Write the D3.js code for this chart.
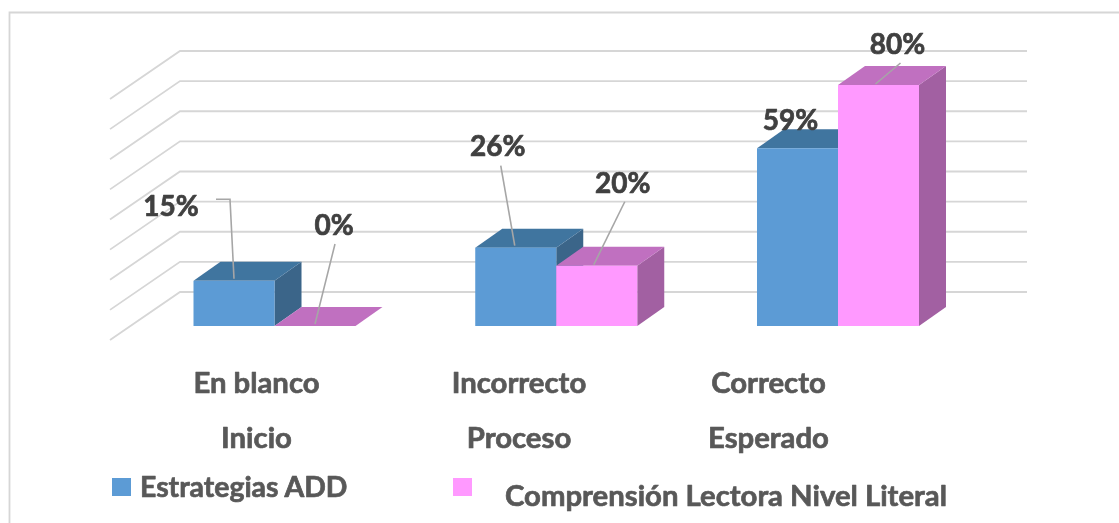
<!DOCTYPE html>
<html><head><meta charset="utf-8">
<script src="https://cdn.jsdelivr.net/npm/d3@7/dist/d3.min.js"></script>
<style>html,body{margin:0;padding:0;background:#fff;overflow:hidden}svg{display:block}text{font-family:Lato,"Open Sans",sans-serif;font-weight:700;stroke-linejoin:round}</style>
</head><body><svg id="c" width="1119" height="523"></svg>
<script>
const categories = ["En blanco","Incorrecto","Correcto"];
const stages = ["Inicio","Proceso","Esperado"];
const seriesNames = ["Estrategias ADD","Comprensión Lectora Nivel Literal"];
const estrategias = [15,26,59];
const comprension = [0,20,80];
const gridTicks = [0,10,20,30,40,50,60,70,80];

const colors = [
 {front:"#5B9BD5",top:"#41749F",side:"#3A6589"},
 {front:"#FF99FF",top:"#C070C0",side:"#A260A2"}
];
const svg = d3.select("#c");
const defs = svg.append("defs");
defs.append("filter").attr("id","soft").attr("x","-5%").attr("y","-5%").attr("width","110%").attr("height","110%")
 .append("feGaussianBlur").attr("stdDeviation",0.45);
const root = svg.append("g").attr("filter","url(#soft)");
const y = d3.scaleLinear().domain([0,80]).range([292,51]);
const x0 = d3.scaleBand().domain(categories).range([193.5,919]).paddingInner(0.425);
const x1 = d3.scaleBand().domain([0,1]).range([0,x0.bandwidth()]);
const depth = {dx:27,dy:19}, wall = {dx:70,dy:48}, floorDrop = 34;
const yFront = v => y(v)+floorDrop;

// frame
root.append("path").attr("d","M9.5,523V12.5H1119").attr("fill","none").attr("stroke","#D6D6D6").attr("stroke-width",1.8);

// grid
const gridG = root.append("g").attr("fill","none").attr("stroke","#D6D6D6").attr("stroke-width",1.8);
gridG.selectAll("path").data(gridTicks).join("path")
 .attr("d",d=>`M${180-wall.dx},${y(d)+wall.dy}L180,${y(d)}H1027`);

// bars
[estrategias,comprension].forEach((vals,s)=>{
 const c = colors[s];
 const g = root.append("g").attr("class","series");
 vals.forEach((v,i)=>{
  const l = x0(categories[i])+x1(s), r = l+x1.bandwidth();
  const t = yFront(v), b = yFront(0);
  g.append("path").attr("fill",c.side)
   .attr("d",`M${r},${t}L${r+depth.dx},${t-depth.dy}V${b-depth.dy}L${r},${b}Z`);
  g.append("path").attr("fill",c.top)
   .attr("d",`M${l},${t}L${l+depth.dx},${t-depth.dy}H${r+depth.dx}L${r},${t}Z`);
  if(v>0) g.append("rect").attr("x",l).attr("y",t).attr("width",r-l).attr("height",b-t).attr("fill",c.front);
 });
});

// leader lines and labels, offsets relative to the bar's centre/top
const layout = [
 [{lx:-63,ly:-65,pts:[[-18,-81.5],[-4,-81.5],[0,-2]]},{lx:19,ly:-91,pts:[[20,-82],[0,-2]]}],
 [{lx:-18,ly:-92,pts:[[-15,-82],[-1,-2]]},{lx:26,ly:-73,pts:[[28,-64],[-3,-1]]}],
 [{lx:-7,ly:-18,pts:null},{lx:19,ly:-31,pts:[[22,-22],[-3,-1]]}]
];
[estrategias,comprension].forEach((vals,s)=>{
 vals.forEach((v,i)=>{
  const cx = x0(categories[i])+x1(s)+x1.bandwidth()/2, t = yFront(v), L = layout[i][s];
  if(L.pts) root.append("path").attr("fill","none").attr("stroke","#A6A6A6").attr("stroke-width",1.6)
    .attr("d",d3.line()(L.pts.map(p=>[cx+p[0],t+p[1]])));
  root.append("text").attr("x",cx+L.lx).attr("y",t+L.ly).attr("text-anchor","middle")
    .attr("font-size",28).attr("fill","#404040").attr("stroke","#404040").attr("stroke-width",0.7).text(v+"%");
 });
});

// axis labels
const catCx = [256.5,519,768.5];
categories.forEach((c,i)=>{
 root.append("text").attr("x",catCx[i]).attr("y",392.5).attr("text-anchor","middle").attr("font-size",29.3).attr("fill","#595959").attr("stroke","#595959").attr("stroke-width",0.7).text(c);
 root.append("text").attr("x",catCx[i]).attr("y",447.5).attr("text-anchor","middle").attr("font-size",29.3).attr("fill","#595959").attr("stroke","#595959").attr("stroke-width",0.7).text(stages[i]);
});

// legend
const leg = [{sx:112,tx:140,ty:496.5,fs:28.4},{sx:453,tx:505,ty:505.5,fs:29.3}];
seriesNames.forEach((n,i)=>{
 root.append("rect").attr("x",leg[i].sx).attr("y",478).attr("width",19).attr("height",18).attr("fill",colors[i].front);
 root.append("text").attr("x",leg[i].tx).attr("y",leg[i].ty).attr("font-size",leg[i].fs).attr("fill","#595959").attr("stroke","#595959").attr("stroke-width",0.7).text(n);
});
</script></body></html>
